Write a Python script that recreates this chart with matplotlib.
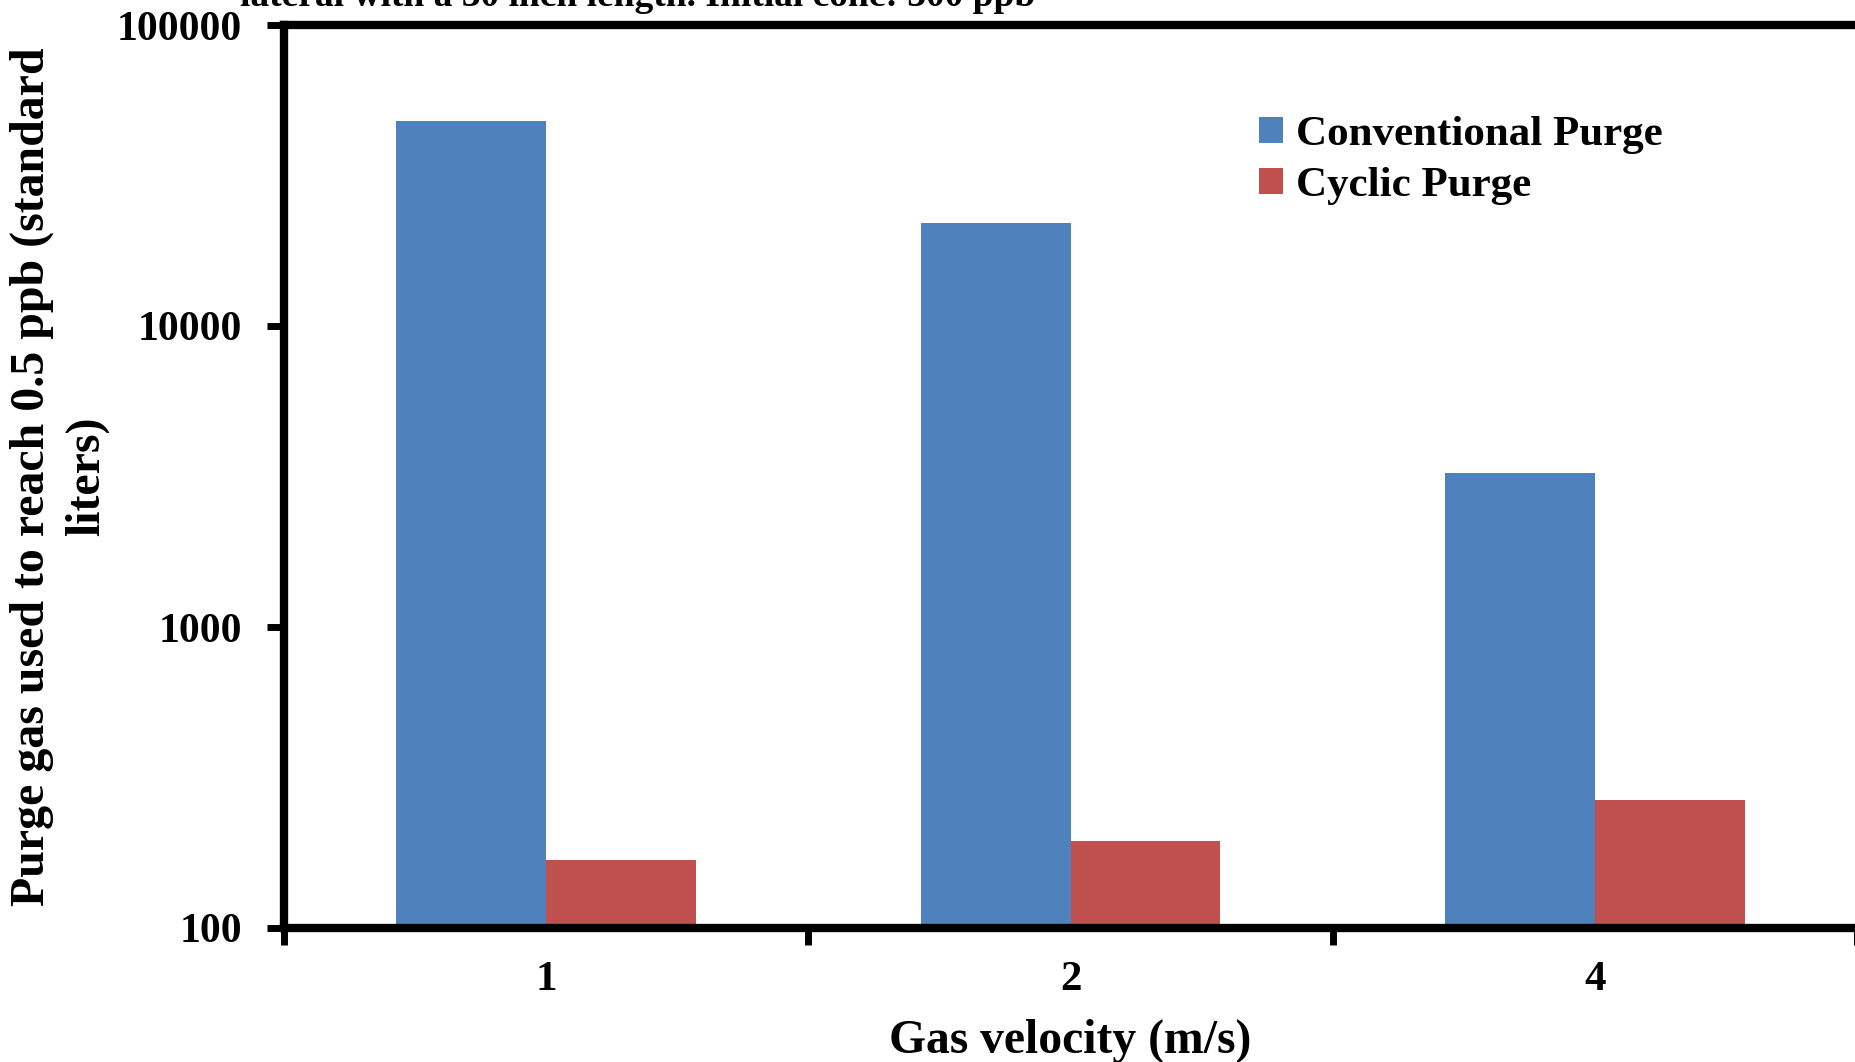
import matplotlib
matplotlib.use("Agg")
import matplotlib.pyplot as plt
import numpy as np

# Data
categories = ["1", "2", "4"]
conventional = [48000, 22000, 3250]
cyclic = [168, 195, 266]

BLUE = "#4F81BD"
RED = "#C0504D"

plt.rcParams["font.family"] = ["Liberation Serif", "DejaVu Serif"]
plt.rcParams["font.weight"] = "bold"

fig = plt.figure(figsize=(18.55, 10.62), dpi=100)
ax = fig.add_axes([284 / 1855, 1 - 928 / 1062, 1573 / 1855, 903 / 1062])

x = np.arange(len(categories))
w = 0.2857
ax.bar(x - w / 2, conventional, width=w, color=BLUE, label="Conventional Purge")
ax.bar(x + w / 2, cyclic, width=w, color=RED, label="Cyclic Purge")

ax.set_yscale("log")
ax.set_ylim(100, 100000)
ax.set_xlim(-0.5, len(categories) - 0.5)
ax.set_yticks([100, 1000, 10000, 100000])
ax.set_yticklabels(["100", "1000", "10000", "100000"])
ax.yaxis.set_minor_locator(matplotlib.ticker.NullLocator())

# category boundary ticks, labels centred between them
ax.set_xticks(np.arange(len(categories) + 1) - 0.5)
ax.set_xticklabels([])
ax.set_xticks(x, minor=True)
ax.set_xticklabels(categories, minor=True)
ax.tick_params(axis="x", which="minor", length=0, pad=24, labelsize=31)
ax.tick_params(axis="x", which="major", length=12, width=5, direction="out")
ax.tick_params(axis="y", which="major", length=12, width=5, direction="out",
               labelsize=30, pad=18)

for side in ["left", "bottom", "top"]:
    ax.spines[side].set_linewidth(6)
ax.spines["right"].set_visible(False)

ax.set_xlabel("Gas velocity (m/s)", fontsize=34.3, fontweight="bold", labelpad=14)
ax.set_ylabel("Purge gas used to reach 0.5 ppb (standard\nliters)",
              fontsize=34.5, fontweight="bold", labelpad=6, linespacing=1.3)

leg = ax.legend(loc="upper left", bbox_to_anchor=(0.609, 0.918), frameon=False,
                prop={"size": 31, "weight": "bold"}, handlelength=0.55,
                handleheight=0.55, handletextpad=0.3, labelspacing=0.3,
                borderaxespad=0)

fig.text(240 / 1855, 1 - 6 / 1062,
         "lateral with a 30 inch length. Initial conc: 300 ppb",
         fontsize=27, fontweight="bold", va="baseline", ha="left")

fig.savefig("out.png", dpi=100)
